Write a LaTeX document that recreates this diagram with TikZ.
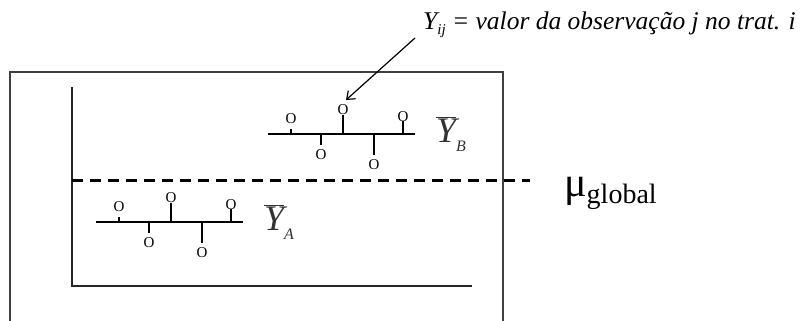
\documentclass[tikz,border=0pt]{standalone}
\usepackage{fontspec}
\setmainfont{Liberation Serif}
\usetikzlibrary{arrows.meta}
\tikzset{
  frame/.style={draw=black!75, line width=1.4pt},
  axis/.style={draw=black!85, line width=1.2pt},
  meanline/.style={draw=black, line width=2.6pt},
  stem/.style={draw=black, line width=1.2pt},
  obsmark/.style={inner sep=0pt, font=\fontsize{15}{15}\selectfont},
  gdash/.style={draw=black, line width=3pt, dash pattern=on 11pt off 7pt},
  barlabel/.style={inner sep=0pt, text=black!80, anchor=base west},
}
\newcommand{\obsgroup}[1]{%
  \draw[meanline] (268,134) -- (415,134);
  \draw[stem] (291,134) -- (291,129);
  \node[obsmark] (#1o1) at (291,119) {O};
  \draw[stem] (321,134) -- (321,145);
  \node[obsmark] (#1o2) at (321,155) {O};
  \draw[stem] (343,134) -- (343,115);
  \node[obsmark] (#1o3) at (343,110) {O};
  \draw[stem] (374,134) -- (374,155);
  \node[obsmark] (#1o4) at (374,165) {O};
  \draw[stem] (403,134) -- (403,121);
  \node[obsmark] (#1o5) at (403,117) {O};
}
\begin{document}
\begin{tikzpicture}[x=1pt,y=-1pt]
\useasboundingbox (0,0) rectangle (811,321);
% outer frame (open at the bottom)
\draw[frame] (10,321) -- (10,72) -- (503,72) -- (503,321);
% axes
\draw[axis] (72,87) -- (72,286) -- (472,286);
% global mean
\draw[gdash] (72,180) -- (530,180);
\node[inner sep=0pt, anchor=base west] (mu) at (564,196)
  {\fontsize{42}{42}\selectfont μ\raisebox{-7pt}{\fontsize{28}{28}\selectfont global}};
% group B
\begin{scope}
  \obsgroup{b}
\end{scope}
\node[barlabel] (yb) at (436,142)
  {$\overline{\mbox{\fontsize{36}{36}\selectfont\itshape Y}}$\raisebox{-9pt}{\fontsize{16}{16}\selectfont\itshape B}};
% group A
\begin{scope}[shift={(-172,88)}]
  \obsgroup{a}
\end{scope}
\node[barlabel] (ya) at (264,230)
  {$\overline{\mbox{\fontsize{36}{36}\selectfont\itshape Y}}$\raisebox{-9pt}{\fontsize{16}{16}\selectfont\itshape A}};
% annotation
\node[inner sep=0pt, anchor=base west, font=\fontsize{25.5}{25.5}\selectfont\itshape] (note) at (423,30)
  {Y\raisebox{-5pt}{\fontsize{15}{15}\selectfont ij} = valor da observação j no trat. i};
\coordinate (arrs) at (415,38);
\coordinate (arre) at (346,100);
\draw[-{Straight Barb[length=7pt,width=11pt]}, line width=1.2pt] (arrs) -- (arre);
\end{tikzpicture}
\end{document}
